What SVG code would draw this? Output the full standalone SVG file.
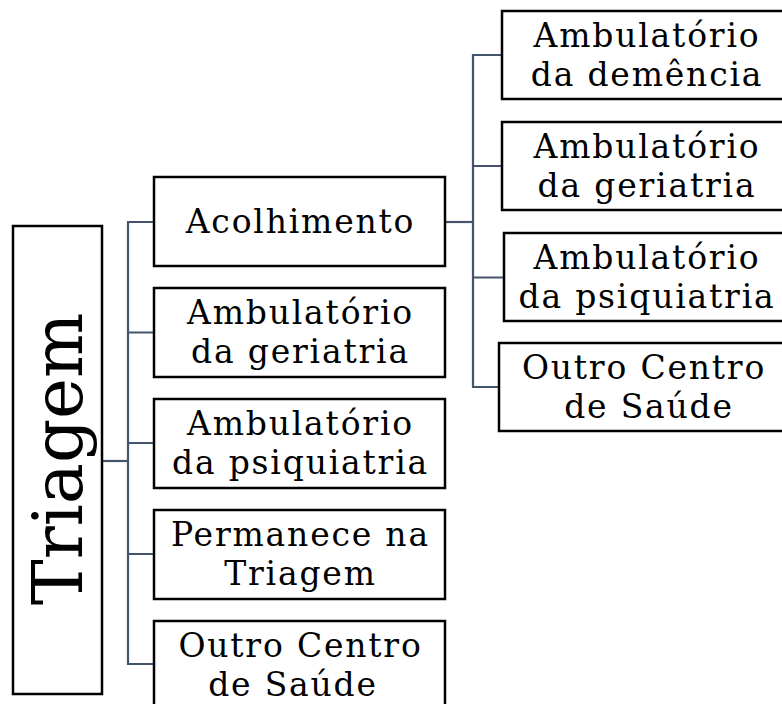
<svg xmlns="http://www.w3.org/2000/svg" width="782" height="704" viewBox="0 0 782 704">
<style>
.box{fill:#fff;stroke:#000;stroke-width:2.5}
.t{font-family:"DejaVu Serif","Liberation Serif",serif;font-size:33px;letter-spacing:1.8px;fill:#000;text-anchor:middle}
.big{font-family:"DejaVu Serif","Liberation Serif",serif;font-size:69px;fill:#000;text-anchor:middle}
.c{fill:none;stroke:#44546A;stroke-width:2.2}
</style>
<rect width="782" height="704" fill="#fff"/>
<g id="connectors">
<path class="c" d="M102 461H128"/>
<path class="c" d="M154 222H128V664H154M128 332.5H154M128 443H154M128 554H154"/>
<path class="c" d="M445 222H473"/>
<path class="c" d="M502 55H473V387H499M473 166H502M473 277.5H504"/>
</g>
<g id="triagem">
<rect class="box" x="13" y="226" width="89" height="468"/>
<text class="big" transform="translate(82,459) rotate(-90)">Triagem</text>
</g>
<g id="acolhimento">
<rect class="box" x="154" y="177" width="291" height="89"/>
<text class="t" x="300.5" y="233">Acolhimento</text>
</g>
<g id="amb-geriatria">
<rect class="box" x="154" y="288" width="291" height="89"/>
<text class="t" y="324"><tspan x="300.5">Ambulatório</tspan><tspan x="300.5" dy="39">da geriatria</tspan></text>
</g>
<g id="amb-psiquiatria">
<rect class="box" x="154" y="399" width="291" height="89"/>
<text class="t" y="435"><tspan x="300.5">Ambulatório</tspan><tspan x="300.5" dy="39">da psiquiatria</tspan></text>
</g>
<g id="permanece">
<rect class="box" x="154" y="510" width="291" height="89"/>
<text class="t" y="546"><tspan x="300.5">Permanece na</tspan><tspan x="300.5" dy="39">Triagem</tspan></text>
</g>
<g id="outro-centro">
<rect class="box" x="154" y="621" width="291" height="89"/>
<text class="t" y="657"><tspan x="300.5">Outro Centro</tspan><tspan x="293" dy="39">de Saúde</tspan></text>
</g>
<g id="amb-demencia-2">
<rect class="box" x="502" y="11" width="300" height="88"/>
<text class="t" y="47"><tspan x="647">Ambulatório</tspan><tspan x="647" dy="39">da demência</tspan></text>
</g>
<g id="amb-geriatria-2">
<rect class="box" x="502" y="122" width="300" height="88"/>
<text class="t" y="158"><tspan x="647">Ambulatório</tspan><tspan x="647" dy="39">da geriatria</tspan></text>
</g>
<g id="amb-psiquiatria-2">
<rect class="box" x="504" y="233" width="300" height="88"/>
<text class="t" y="269"><tspan x="647">Ambulatório</tspan><tspan x="647" dy="39">da psiquiatria</tspan></text>
</g>
<g id="outro-centro-2">
<rect class="box" x="499" y="343" width="300" height="88"/>
<text class="t" y="379"><tspan x="644">Outro Centro</tspan><tspan x="649" dy="39">de Saúde</tspan></text>
</g>
</svg>
